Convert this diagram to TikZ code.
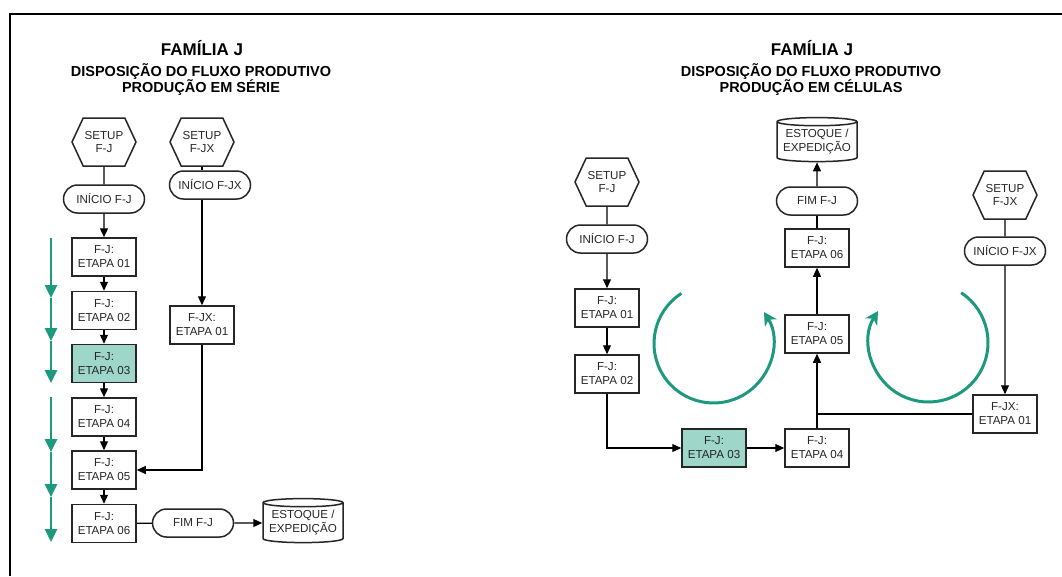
\documentclass[tikz,border=0pt]{standalone}
\usepackage{fontspec}
\setmainfont{Liberation Sans}
\usetikzlibrary{shapes.geometric,shapes.misc,shapes.symbols,arrows.meta}

\definecolor{ink}{HTML}{262626}
\definecolor{cellteal}{HTML}{1D9A7E}
\definecolor{cellfill}{HTML}{9ED7CA}

\begin{document}
\begin{tikzpicture}[x=1pt,y=-1pt,
  every node/.style={font=\fontsize{11.6}{14}\selectfont, text=ink, align=center, inner sep=0pt},
  stepbox/.style={draw=ink, line width=1.5pt, minimum width=64pt, minimum height=38pt, fill=white},
  hotbox/.style={stepbox, fill=cellfill},
  setupbox/.style={draw=ink, line width=1.5pt, signal, signal to=west and east,
    signal pointer angle=130, minimum width=64pt, minimum height=48pt,
    font=\fontsize{11.6}{13.5}\selectfont},
  termbox/.style={draw=ink, line width=1.5pt, rounded rectangle, minimum width=81pt, minimum height=28pt},
  storebox/.style={draw=ink, line width=1.5pt, cylinder, shape border rotate=90, aspect=0.12,
    minimum width=80pt, minimum height=44pt},
  flow/.style={draw=black, line width=1.2pt, -{Triangle[length=9pt,width=8pt]}},
  link/.style={draw=black, line width=1.2pt},
  seqarrow/.style={draw=cellteal, line width=2.6pt, -{Triangle[length=13pt,width=12pt]}},
  cyclearrow/.style={draw=cellteal, line width=3pt, -{Stealth[length=13pt,width=14pt,inset=4pt]}},
  headline/.style={font=\bfseries\fontsize{17}{20}\selectfont, text=black, anchor=base},
  subline/.style={font=\bfseries\fontsize{14.5}{17}\selectfont, text=black, anchor=base}
]
\useasboundingbox (0,0) rectangle (1062,576);
\fill[white] (0,0) rectangle (1062,576);

% frame
\draw[line width=2pt, black] (9.5,576) -- (9.5,13.5) -- (1062,13.5);

% ---------- series production ----------
\node[headline] (titleL) at (202,55.5) {FAMÍLIA J};
\node[subline] (subL1) at (201,76) {DISPOSIÇÃO DO FLUXO PRODUTIVO};
\node[subline] (subL2) at (201,92) {PRODUÇÃO EM SÉRIE};

\node[setupbox] (setupJ) at (104,142) {SETUP\\F-J};
\node[setupbox] (setupJX) at (202,142) {SETUP\\F-JX};
\node[termbox] (inicioJ) at (104,199) {INÍCIO F-J};
\node[termbox] (inicioJX) at (210,185) {INÍCIO F-JX};

\node[stepbox] (e1) at (104,257) {F-J:\\ETAPA 01};
\node[stepbox] (e2) at (104,310.5) {F-J:\\ETAPA 02};
\node[hotbox]  (e3) at (104,363.5) {F-J:\\ETAPA 03};
\node[stepbox] (e4) at (104,417) {F-J:\\ETAPA 04};
\node[stepbox] (e5) at (104,470) {F-J:\\ETAPA 05};
\node[stepbox] (e6) at (104,523.5) {F-J:\\ETAPA 06};
\node[stepbox] (x1) at (202,325) {F-JX:\\ETAPA 01};
\node[termbox] (fimJ) at (193,523) {FIM F-J};
\node[storebox] (storeL) at (303,523) {ESTOQUE /\\EXPEDIÇÃO};

\draw[link] (setupJ) -- (inicioJ);
\draw[flow] (inicioJ) -- (e1);
\draw[flow] (e1) -- (e2);
\draw[flow] (e2) -- (e3);
\draw[flow] (e3) -- (e4);
\draw[flow] (e4) -- (e5);
\draw[flow] (e5) -- (e6);
\draw[link] (setupJX.south) -- (setupJX.south |- inicioJX.north);
\draw[flow] (x1.north |- inicioJX.south) -- (x1.north);
\draw[flow] (x1.south) |- (e5.east);
\draw[link] (e6) -- (fimJ);
\draw[flow] (fimJ) -- (storeL);

% sequence arrows
\coordinate (sa0) at (51,238);
\coordinate (sa1) at (51,298);
\coordinate (sa2) at (51,341);
\coordinate (sa3) at (51,383);
\coordinate (sb0) at (51,397);
\coordinate (sb1) at (51,452);
\coordinate (sb2) at (51,497);
\coordinate (sb3) at (51,542);
\draw[seqarrow] (sa0) -- (sa1);
\draw[seqarrow] (sa1) -- (sa2);
\draw[seqarrow] (sa2) -- (sa3);
\draw[seqarrow] (sb0) -- (sb1);
\draw[seqarrow] (sb1) -- (sb2);
\draw[seqarrow] (sb2) -- (sb3);

% ---------- cell production ----------
\node[headline] (titleR) at (812,55.5) {FAMÍLIA J};
\node[subline] (subR1) at (811,76) {DISPOSIÇÃO DO FLUXO PRODUTIVO};
\node[subline] (subR2) at (811,92) {PRODUÇÃO EM CÉLULAS};

\node[setupbox] (rsetupJ) at (607,182) {SETUP\\F-J};
\node[termbox] (rinicioJ) at (607,239) {INÍCIO F-J};
\node[stepbox] (r1) at (607,308) {F-J:\\ETAPA 01};
\node[stepbox] (r2) at (607,374) {F-J:\\ETAPA 02};
\node[hotbox]  (r3) at (714,448) {F-J:\\ETAPA 03};
\node[stepbox] (r4) at (817,448) {F-J:\\ETAPA 04};
\node[stepbox] (r5) at (817,334) {F-J:\\ETAPA 05};
\node[stepbox] (r6) at (817,248) {F-J:\\ETAPA 06};
\node[termbox] (rfim) at (817,201) {FIM F-J};
\node[storebox] (rstore) at (817,142) {ESTOQUE /\\EXPEDIÇÃO};

\node[setupbox] (rsetupJX) at (1005,195) {SETUP\\F-JX};
\node[termbox] (rinicioJX) at (1005,251) {INÍCIO F-JX};
\node[stepbox] (rx1) at (1005,414) {F-JX:\\ETAPA 01};

\draw[link] (rsetupJ) -- (rinicioJ);
\draw[flow] (rinicioJ) -- (r1);
\draw[flow] (r1) -- (r2);
\draw[flow] (r2.south) |- (r3.west);
\draw[flow] (r3) -- (r4);
\draw[flow] (r4) -- (r5);
\draw[flow] (r5) -- (r6);
\draw[link] (r6) -- (rfim);
\draw[flow] (rfim) -- (rstore);
\draw[link] (rsetupJX) -- (rinicioJX);
\draw[flow] (rinicioJX) -- (rx1);
\draw[link] (rx1.west) -- (r5.south |- rx1.west);

% cell loops
\coordinate (loopA) at (713.5,343.5);
\coordinate (loopB) at (928.5,342.5);
\draw[cyclearrow] (loopA) ++(-122.7:59.5) arc[start angle=-122.7, end angle=-392, radius=59.5];
\draw[cyclearrow] (loopB) ++(-56.7:59.5) arc[start angle=-56.7, end angle=212, radius=59.5];
\end{tikzpicture}
\end{document}
